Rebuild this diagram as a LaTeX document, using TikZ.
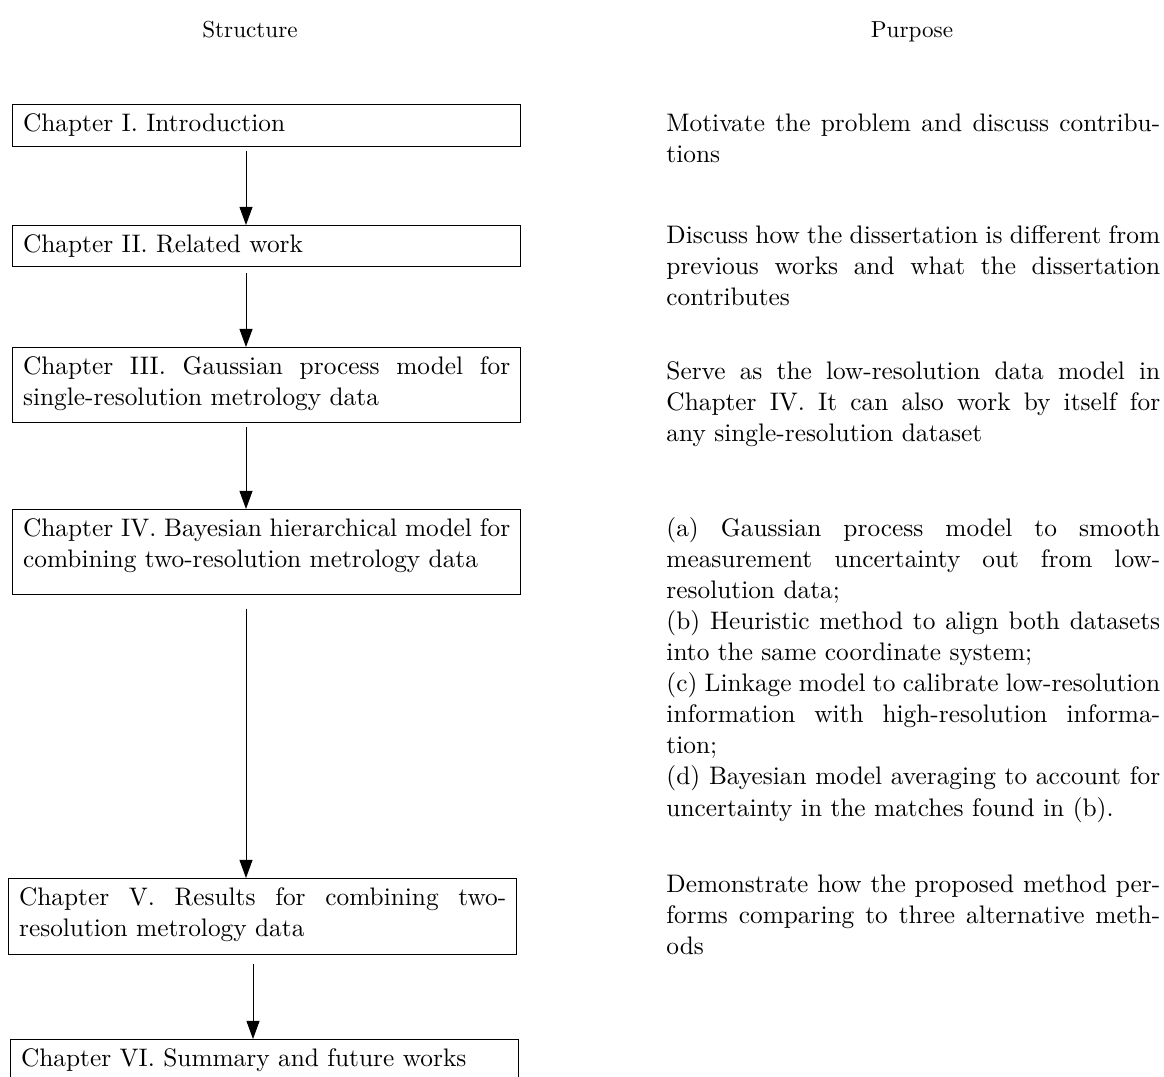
\documentclass[tikz,border=0pt]{standalone}
\usetikzlibrary{arrows.meta}
\newcommand\mainsz{\fontsize{10.95pt}{13.45pt}\selectfont}
% extra depth under the last line of a box
\newcommand\lastdepth[1]{\rule[-#1]{0pt}{#1}}
\begin{document}
\begin{tikzpicture}[x=0.4322pt,y=-0.4322pt,
  chap/.style={draw, line width=0.4pt, text width=7.4cm, align=justify,
    inner xsep=4.6pt, inner ysep=3.85pt, anchor=north west, font=\mainsz},
  purp/.style={text width=7.5cm, align=justify, inner sep=0pt,
    anchor=base west, font=\mainsz},
  head/.style={anchor=base, inner sep=0pt, font=\fontsize{10pt}{12pt}\selectfont},
  flow/.style={line width=0.4pt, -{Triangle[length=7.8pt,width=5.6pt]}}]
\useasboundingbox (0,0) rectangle (1164,1076);

% column headings
\node[head] (hs) at (250,37) {Structure};
\node[head] (hp) at (912,37) {Purpose};

% chapter boxes
\node[chap] (c1) at (12,104) {Chapter I. Introduction\lastdepth{2.63pt}};
\node[chap] (c2) at (12,225) {Chapter II. Related work};
\node[chap] (c3) at (12,347) {Chapter III. Gaussian process model for single-resolution metrology data\lastdepth{3.5pt}};
\node[chap] (c4) at (12,509) {Chapter IV. Bayesian hierarchical model for combining two-resolution metrology data\lastdepth{7.82pt}};
\node[chap] (c5) at (8,878) {Chapter V. Results for combining two-resolution metrology data\lastdepth{3.93pt}};
\node[chap] (c6) at (10,1039) {Chapter VI. Summary and future works};

% purpose texts
\node[purp] (p1) at (666,131) {Motivate the problem and discuss contributions};
\node[purp] (p2) at (666,243) {Discuss how the dissertation is different from previous works and what the dissertation contributes};
\node[purp] (p3) at (666,379) {Serve as the low-resolution data model in Chapter IV. It can also work by itself for\linebreak any single-resolution dataset};
\node[purp] (p4) at (666,536) {(a) Gaussian process model to smooth\linebreak measurement uncertainty out from low-\linebreak resolution data;\\
(b) Heuristic method to align both datasets into the same coordinate system;\\
(c) Linkage model to calibrate low-resolution information with high-resolution information;\\
(d) Bayesian model averaging to account for uncertainty in the matches found in (b).};
\node[purp] (p5) at (666,892) {Demonstrate how the proposed method performs comparing to three alternative methods};

% connectors
\coordinate (ax) at (246,0);
\coordinate (ay) at (253,0);
\draw[flow, shorten <=2] (c1.south -| ax) -- (c2.north -| ax);
\draw[flow, shorten <=3] (c2.south -| ax) -- (c3.north -| ax);
\draw[flow, shorten <=2] (c3.south -| ax) -- (c4.north -| ax);
\draw[flow, shorten <=6] (c4.south -| ax) -- (c5.north -| ax);
\draw[flow, shorten <=4] (c5.south -| ay) -- (c6.north -| ay);
\end{tikzpicture}
\end{document}
